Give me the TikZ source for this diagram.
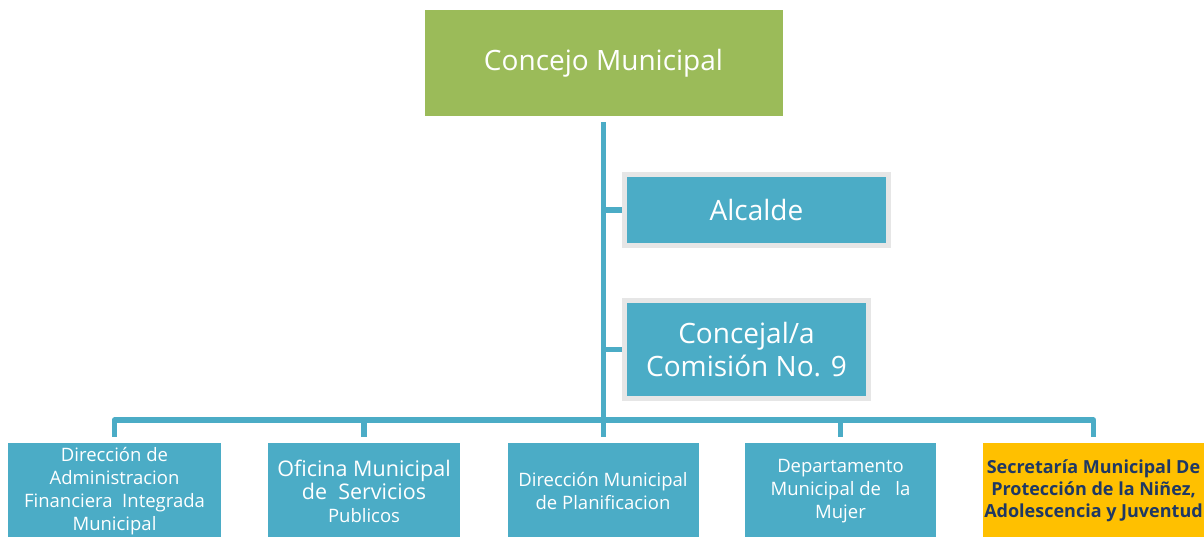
\documentclass[tikz,border=0pt]{standalone}
\usepackage{fontspec}
\setmainfont{Open Sans}
\usepackage{tikz}
\usetikzlibrary{positioning}

\definecolor{BoxBlue}{HTML}{4BACC6}
\definecolor{BoxGreen}{HTML}{9BBB59}
\definecolor{BoxYellow}{HTML}{FFC000}
\definecolor{FrameGray}{HTML}{E6E6E6}
\definecolor{TextNavy}{HTML}{1F3864}

\begin{document}
\begin{tikzpicture}[x=1pt, y=-1pt]
		\tikzstyle{Unit}	= [rectangle, fill=BoxBlue, text=white, inner sep=0pt, align=center]
		\tikzstyle{Head}	= [Unit, fill=BoxGreen, font=\fontsize{28}{33}\selectfont]
		\tikzstyle{Staff}	= [Unit, draw=FrameGray, line width=5pt, font=\fontsize{28}{33}\selectfont]
		\tikzstyle{Office}	= [Unit, minimum height=96pt, font=\fontsize{18.5}{23}\selectfont]
		\tikzstyle{Focus}	= [Office, fill=BoxYellow, text=TextNavy, font=\bfseries\fontsize{18}{22}\selectfont]
		\tikzstyle{Link}	= [BoxBlue, line width=5.5pt, shorten <=6pt, shorten >=6pt]
		\tikzstyle{Branch}	= [BoxBlue, line width=5.5pt]

		\useasboundingbox (0,0) rectangle (1204,537);

		\node (concejo) at (603.5, 63.0) [Head, minimum width=358pt, minimum height=106pt] {Concejo Municipal};
		\node (alcalde) at (756.5, 210.0) [Staff, minimum width=264pt, minimum height=71pt] {Alcalde};
		\node (concejal) at (746.5, 349.5) [Staff, minimum width=244pt, minimum height=98pt] {Concejal/a\\Comisión No. 9};

		\node (dir1) at (114.5, 491.0) [Office, minimum width=213pt] {Dirección de\\Administracion\\Financiera\ \ Integrada\\Municipal};
		\node (dir2) at (364.0, 491.0) [Office, minimum width=192pt] {\fontsize{21.5}{24}\selectfont Oficina Municipal\\\fontsize{21.5}{24}\selectfont de\ \ Servicios\\Publicos};
		\node (dir3) at (603.0, 491.0) [Office, minimum width=191pt] {Dirección Municipal\\de Planificacion};
		\node (dir4) at (840.5, 491.0) [Office, minimum width=191pt] {Departamento\\Municipal de\ \ \ la\\Mujer};
		\node (dir5) at (1093.5, 491.0) [Focus, minimum width=221pt] {Secretaría Municipal De\\Protección de la Niñez,\\Adolescencia y Juventud};

		\coordinate (bus) at (603.5, 420.0);

		\draw [-] (concejo.south) to (concejo.south |- dir3.north) [Link];
		\draw [-] (concejo.south |- alcalde.west) to (alcalde.west) [Branch];
		\draw [-] (concejo.south |- concejal.west) to (concejal.west) [Branch];
		\draw [-] (dir1.north) |- (bus) -| (dir5.north) [Link, line join=round];
		\draw [-] (dir2 |- bus) to (dir2.north) [Link, shorten <=0pt];
		\draw [-] (dir4 |- bus) to (dir4.north) [Link, shorten <=0pt];
	\end{tikzpicture}
\end{document}
